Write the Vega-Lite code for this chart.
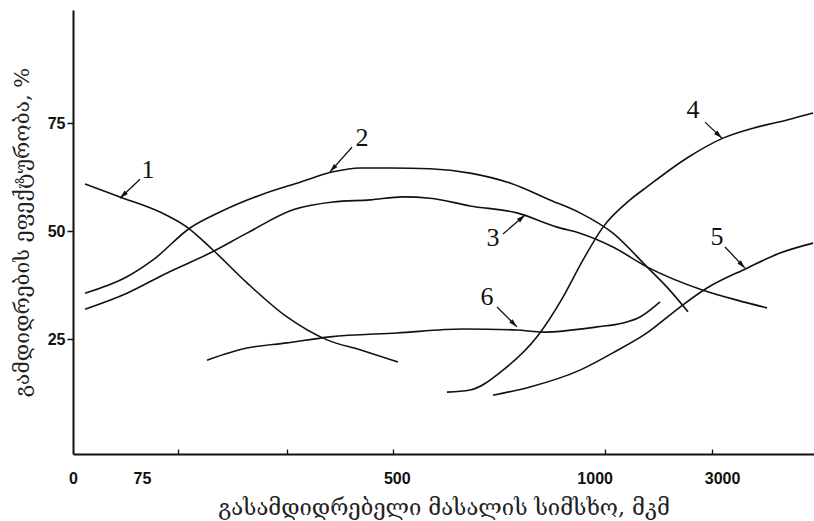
{
  "$schema": "https://vega.github.io/schema/vega-lite/v6.json",
  "width": 741,
  "height": 444,
  "autosize": "none",
  "padding": {"left": 73, "top": 10, "right": 0, "bottom": 67},
  "background": "white",
  "config": {"view": {"stroke": null}},
  "datasets": {
    "curves": [
      {"curve": "1", "x": 1.62, "y": 60.9},
      {"curve": "1", "x": 6.34, "y": 57.9},
      {"curve": "1", "x": 11.74, "y": 54.4},
      {"curve": "1", "x": 15.38, "y": 50.9},
      {"curve": "1", "x": 18.89, "y": 45.6},
      {"curve": "1", "x": 23.48, "y": 38.0},
      {"curve": "1", "x": 28.88, "y": 30.1},
      {"curve": "1", "x": 34.28, "y": 24.8},
      {"curve": "1", "x": 38.73, "y": 22.5},
      {"curve": "1", "x": 43.86, "y": 19.7},
      {"curve": "2", "x": 1.62, "y": 35.6},
      {"curve": "2", "x": 7.29, "y": 39.4},
      {"curve": "2", "x": 10.8, "y": 43.3},
      {"curve": "2", "x": 15.79, "y": 50.7},
      {"curve": "2", "x": 19.84, "y": 54.4},
      {"curve": "2", "x": 25.24, "y": 58.3},
      {"curve": "2", "x": 30.63, "y": 61.3},
      {"curve": "2", "x": 35.09, "y": 63.7},
      {"curve": "2", "x": 38.73, "y": 64.6},
      {"curve": "2", "x": 42.78, "y": 64.6},
      {"curve": "2", "x": 48.18, "y": 64.4},
      {"curve": "2", "x": 53.58, "y": 63.4},
      {"curve": "2", "x": 58.97, "y": 61.1},
      {"curve": "2", "x": 64.37, "y": 57.2},
      {"curve": "2", "x": 68.42, "y": 54.2},
      {"curve": "2", "x": 72.87, "y": 49.5},
      {"curve": "2", "x": 77.46, "y": 41.7},
      {"curve": "2", "x": 80.16, "y": 37.0},
      {"curve": "2", "x": 83.0, "y": 31.3},
      {"curve": "3", "x": 1.62, "y": 31.9},
      {"curve": "3", "x": 7.29, "y": 35.6},
      {"curve": "3", "x": 12.69, "y": 40.3},
      {"curve": "3", "x": 18.49, "y": 44.9},
      {"curve": "3", "x": 23.48, "y": 49.5},
      {"curve": "3", "x": 29.69, "y": 54.9},
      {"curve": "3", "x": 35.09, "y": 56.7},
      {"curve": "3", "x": 40.08, "y": 57.2},
      {"curve": "3", "x": 44.53, "y": 57.9},
      {"curve": "3", "x": 48.18, "y": 57.6},
      {"curve": "3", "x": 53.58, "y": 55.8},
      {"curve": "3", "x": 59.92, "y": 54.2},
      {"curve": "3", "x": 65.32, "y": 50.9},
      {"curve": "3", "x": 68.42, "y": 49.5},
      {"curve": "3", "x": 72.87, "y": 46.3},
      {"curve": "3", "x": 77.46, "y": 41.7},
      {"curve": "3", "x": 85.02, "y": 36.3},
      {"curve": "3", "x": 89.61, "y": 34.0},
      {"curve": "3", "x": 93.66, "y": 32.2},
      {"curve": "4", "x": 50.47, "y": 12.7},
      {"curve": "4", "x": 53.58, "y": 13.2},
      {"curve": "4", "x": 58.03, "y": 17.8},
      {"curve": "4", "x": 62.62, "y": 25.5},
      {"curve": "4", "x": 66.13, "y": 34.7},
      {"curve": "4", "x": 68.83, "y": 43.3},
      {"curve": "4", "x": 71.53, "y": 50.9},
      {"curve": "4", "x": 75.17, "y": 57.2},
      {"curve": "4", "x": 77.46, "y": 60.2},
      {"curve": "4", "x": 82.86, "y": 66.9},
      {"curve": "4", "x": 87.72, "y": 71.5},
      {"curve": "4", "x": 91.77, "y": 73.8},
      {"curve": "4", "x": 96.36, "y": 75.7},
      {"curve": "4", "x": 99.87, "y": 77.3},
      {"curve": "5", "x": 56.68, "y": 12.0},
      {"curve": "5", "x": 61.67, "y": 13.9},
      {"curve": "5", "x": 68.42, "y": 17.8},
      {"curve": "5", "x": 72.87, "y": 21.8},
      {"curve": "5", "x": 77.46, "y": 26.4},
      {"curve": "5", "x": 81.92, "y": 32.4},
      {"curve": "5", "x": 85.56, "y": 36.8},
      {"curve": "5", "x": 90.96, "y": 41.4},
      {"curve": "5", "x": 95.41, "y": 44.9},
      {"curve": "5", "x": 99.87, "y": 47.2},
      {"curve": "6", "x": 18.08, "y": 20.1},
      {"curve": "6", "x": 23.48, "y": 22.9},
      {"curve": "6", "x": 28.88, "y": 24.1},
      {"curve": "6", "x": 34.68, "y": 25.5},
      {"curve": "6", "x": 43.72, "y": 26.4},
      {"curve": "6", "x": 52.63, "y": 27.3},
      {"curve": "6", "x": 59.92, "y": 27.1},
      {"curve": "6", "x": 63.43, "y": 26.6},
      {"curve": "6", "x": 70.72, "y": 27.8},
      {"curve": "6", "x": 74.22, "y": 28.7},
      {"curve": "6", "x": 76.52, "y": 30.1},
      {"curve": "6", "x": 79.22, "y": 33.6}
    ],
    "labels": [
      {"id": "1", "lx": 10.12, "ly": 64.1, "ax": 9.04, "ay": 62.0, "tx": 6.34, "ty": 57.6},
      {"id": "2", "lx": 39.0, "ly": 71.5, "ax": 37.65, "ay": 69.4, "tx": 34.68, "ty": 63.7},
      {"id": "3", "lx": 56.68, "ly": 48.4, "ax": 58.03, "ay": 49.3, "tx": 61.0, "ty": 53.7},
      {"id": "4", "lx": 83.67, "ly": 78.0, "ax": 85.29, "ay": 75.2, "tx": 87.58, "ty": 71.5},
      {"id": "5", "lx": 86.91, "ly": 48.6, "ax": 87.99, "ay": 46.3, "tx": 90.69, "ty": 41.4},
      {"id": "6", "lx": 55.87, "ly": 34.7, "ax": 57.22, "ay": 32.4, "tx": 59.92, "ty": 27.8}
    ]
  },
  "layer": [
    {
      "data": {"name": "curves"},
      "mark": {"type": "line", "interpolate": "monotone", "color": "#111111", "strokeWidth": 1.6},
      "encoding": {
        "x": {
          "field": "x", "type": "quantitative",
          "scale": {"domain": [0, 100], "nice": false, "zero": false},
          "axis": {
            "title": "გასამდიდრებელი მასალის სიმსხო, მკმ",
            "titleFont": "DejaVu Serif",
            "titleFontSize": 22,
            "titleFontWeight": "normal",
            "titleColor": "#222222",
            "titlePadding": 11,
            "values": [0, 9.3, 14.2, 28.9, 43.2, 43.7, 70.4, 71.8, 86.2, 87.6],
            "labelExpr": "datum.value == 0 ? '0' : datum.value == 9.3 ? '75' : datum.value == 43.7 ? '500' : datum.value == 70.4 ? '1000' : datum.value == 87.6 ? '3000' : ''",
            "labelOverlap": false,
            "labelFlush": false,
            "labelBound": false,
            "labelFont": "Liberation Sans",
            "labelFontWeight": "bold",
            "labelFontSize": 16,
            "labelColor": "#111111",
            "labelPadding": 21,
            "tickSize": -5,
            "tickWidth": 1.3,
            "tickColor": "#111111",
            "tickOpacity": {"expr": "indexof([14.2, 28.9, 43.2, 71.8, 86.2], datum.value) >= 0 ? 1 : 0"},
            "domainColor": "#111111",
            "domainWidth": 2,
            "grid": false
          }
        },
        "y": {
          "field": "y", "type": "quantitative",
          "scale": {"domain": [-1.62, 101.16], "nice": false, "zero": false},
          "axis": {
            "title": "გამდიდრების ეფექტურობა, %",
            "titleFont": "DejaVu Serif",
            "titleFontSize": 21,
            "titleFontWeight": "normal",
            "titleColor": "#222222",
            "titlePadding": 15,
            "values": [25, 50, 75],
            "labelFont": "Liberation Sans",
            "labelFontWeight": "bold",
            "labelFontSize": 16,
            "labelColor": "#111111",
            "labelPadding": 2,
            "tickSize": 6,
            "tickWidth": 1.5,
            "tickColor": "#111111",
            "domainColor": "#111111",
            "domainWidth": 2,
            "grid": false
          }
        },
        "detail": {"field": "curve", "type": "nominal"}
      }
    },
    {
      "mark": {"type": "rule", "color": "#111111", "strokeWidth": 2},
      "encoding": {"y": {"datum": 101.16}}
    },
    {
      "data": {"name": "labels"},
      "mark": {"type": "rule", "color": "#111111", "strokeWidth": 1.3},
      "encoding": {
        "x": {"field": "ax", "type": "quantitative"},
        "y": {"field": "ay", "type": "quantitative"},
        "x2": {"field": "tx"},
        "y2": {"field": "ty"}
      }
    },
    {
      "data": {"name": "labels"},
      "transform": [
        {"calculate": "atan2((datum.tx - datum.ax) * 7.41, (datum.ty - datum.ay) * 4.32) * 180 / PI", "as": "ang"}
      ],
      "mark": {"type": "point", "shape": "M0,0L0.5,1.8L-0.5,1.8Z", "filled": true, "color": "#111111", "opacity": 1, "size": 90},
      "encoding": {
        "x": {"field": "tx", "type": "quantitative"},
        "y": {"field": "ty", "type": "quantitative"},
        "angle": {"field": "ang", "type": "quantitative", "scale": null}
      }
    },
    {
      "data": {"name": "labels"},
      "mark": {"type": "text", "font": "Liberation Serif", "fontSize": 26, "color": "#111111", "align": "center", "baseline": "middle"},
      "encoding": {
        "x": {"field": "lx", "type": "quantitative"},
        "y": {"field": "ly", "type": "quantitative"},
        "text": {"field": "id"}
      }
    }
  ]
}
